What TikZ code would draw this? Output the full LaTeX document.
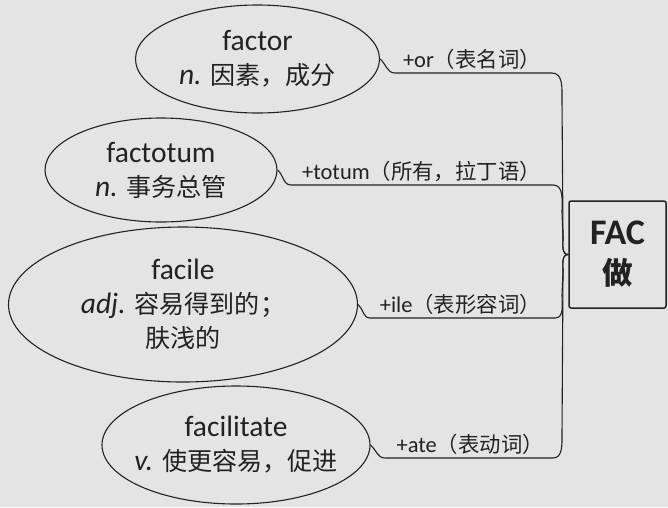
\documentclass[tikz,border=0pt]{standalone}
\usepackage{fontspec}
\setmainfont{Carlito}
\newfontfamily\cjk[Scale=0.85]{Noto Sans CJK SC}
\newfontfamily\cjkl[Scale=0.95]{Noto Sans CJK SC}
\usetikzlibrary{shapes.geometric}
\definecolor{bg}{HTML}{E4E4E4}
\definecolor{ink}{HTML}{222222}
\tikzset{
  wordbox/.style={ellipse, draw=ink, line width=1.1pt, inner sep=0pt},
  wordtext/.style={align=center, text=ink, inner sep=0pt, font=\fontsize{29.5}{34}\selectfont},
  lab/.style={anchor=south east, inner sep=0pt, text=ink, font=\fontsize{22.5}{25}\selectfont},
  conn/.style={draw=ink, line width=1.1pt},
  rootbox/.style={draw=ink, line width=1.5pt, rounded corners=2pt, minimum width=97pt, minimum height=107pt, inner sep=0pt, align=center, text=ink, font=\bfseries\fontsize{36}{40}\selectfont}
}
\begin{document}
\begin{tikzpicture}[x=1pt,y=-1pt]
\fill[bg] (0,0) rectangle (668,507);
\useasboundingbox (0,0) rectangle (668,507);

% root
\node[rootbox] (root) at (617.5,254.5) {FAC\\{\cjk\bfseries 做}};

% ellipses
\node[wordbox, minimum width=244pt, minimum height=108pt] (e1) at (257.5,59) {};
\node[wordtext] (t1) at (e1.center) {factor\\\textit{n.} {\cjk 因素，成分}};

\node[wordbox, minimum width=232pt, minimum height=104pt] (e2) at (161,170) {};
\node[wordtext] (t2) at (e2.center) {factotum\\\textit{n.} {\cjk 事务总管}};

\node[wordbox, minimum width=349pt, minimum height=155pt] (e3) at (183,304.5) {};
\node[wordtext] (t3) at (e3.center) {facile\\\textit{adj.} {\cjk 容易得到的；}\\{\cjk 肤浅的}};

\node[wordbox, minimum width=268pt, minimum height=118pt] (e4) at (236,445) {};
\node[wordtext] (t4) at (e4.center) {facilitate\\\textit{v.} {\cjk 使更容易，促进}};

% branch points
\coordinate (s1) at (395,73);
\coordinate (c1) at (552,73);
\coordinate (s2) at (291,185);
\coordinate (c2) at (553,185);
\coordinate (s3) at (370,318);
\coordinate (c3) at (555,318);
\coordinate (s4) at (385,458);
\coordinate (c4) at (553,458);
\coordinate (ja) at (563,238);
\coordinate (jb) at (563,271);

% connectors
\draw[conn] (e1.east) to[out=-40,in=180] (s1) -- (c1) to[out=0,in=90] (562,100) -- (ja) to[out=-90,in=180] (root.west);
\draw[conn] (e2.east) to[out=-40,in=180] (s2) -- (c2) to[out=0,in=90] (562,212) -- (ja) to[out=-90,in=180] (root.west);
\draw[conn] (e3.east) to[out=-40,in=180] (s3) -- (c3) to[out=0,in=-90] (562,295) -- (jb) to[out=90,in=180] (root.west);
\draw[conn] (e4.east) to[out=-40,in=180] (s4) -- (c4) to[out=0,in=-90] (562,435) -- (jb) to[out=90,in=180] (root.west);

% labels
\node[lab] (l1) at (541,70) {+or{\cjkl （表名词）}};
\node[lab] (l2) at (541,182) {+totum{\cjkl （所有，拉丁语）}};
\node[lab] (l3) at (541,315) {+ile{\cjkl （表形容词）}};
\node[lab] (l4) at (544,455) {+ate{\cjkl （表动词）}};
\end{tikzpicture}
\end{document}
